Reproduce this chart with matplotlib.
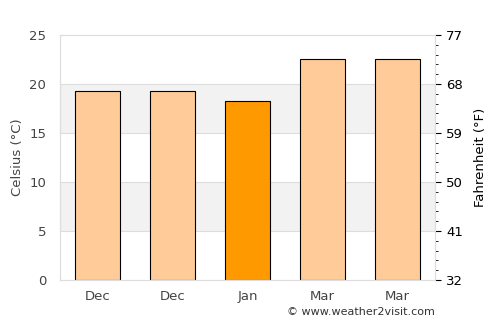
import matplotlib
matplotlib.use('Agg')
import matplotlib.pyplot as plt
import numpy as np

months = ['Dec', 'Dec', 'Jan', 'Mar', 'Mar']
temps_c = [19.3, 19.3, 18.3, 22.6, 22.6]
bar_colors = ['#ffcc99', '#ffcc99', '#ff9900', '#ffcc99', '#ffcc99']
f_ticks = [32, 41, 50, 59, 68, 77]

fig = plt.figure(figsize=(5, 3.25), dpi=100)
ax = fig.add_axes([0.12, 0.1385, 0.75, 0.7538])

# alternating background bands
for lo in (5, 15):
    ax.axhspan(lo, lo + 5, color='#f2f2f2', zorder=0, lw=0)
for y in range(5, 25, 5):
    ax.axhline(y, color='#dddddd', lw=0.8, zorder=0.5)

x = np.arange(len(months))
ax.bar(x, temps_c, width=0.6, color=bar_colors, edgecolor='black', linewidth=0.8, zorder=2)

ax.set_xlim(-0.5, len(months) - 0.5)
ax.set_ylim(0, 25)
ax.set_yticks(range(0, 26, 5))
ax.set_xticks(x)
ax.set_xticklabels(months)
ax.tick_params(axis='both', length=0, colors='#444444', labelsize=9.5, pad=7)
ax.tick_params(axis='y', pad=10)
ax.set_ylabel('Celsius (°C)', color='#444444', fontsize=9.5)
for s in ax.spines.values():
    s.set_color('#dddddd')

ax2 = ax.twinx()
ax2.set_ylim(32, 77)
ax2.set_yticks(f_ticks)
ax2.set_yticks(np.arange(32, 77.1, 1.8), minor=True)
ax2.tick_params(axis='y', which='major', length=4, labelsize=9.5, colors='black', pad=4)
ax2.tick_params(axis='y', which='minor', length=2.5, colors='black')
ax2.set_ylabel('Fahrenheit (°F)', fontsize=9.5, labelpad=8)
for s in ax2.spines.values():
    s.set_color('#dddddd')

fig.text(0.87, 0.025, '© www.weather2visit.com', ha='right', va='bottom', fontsize=8, color='#333333')

fig.savefig('out.png', dpi=100)
